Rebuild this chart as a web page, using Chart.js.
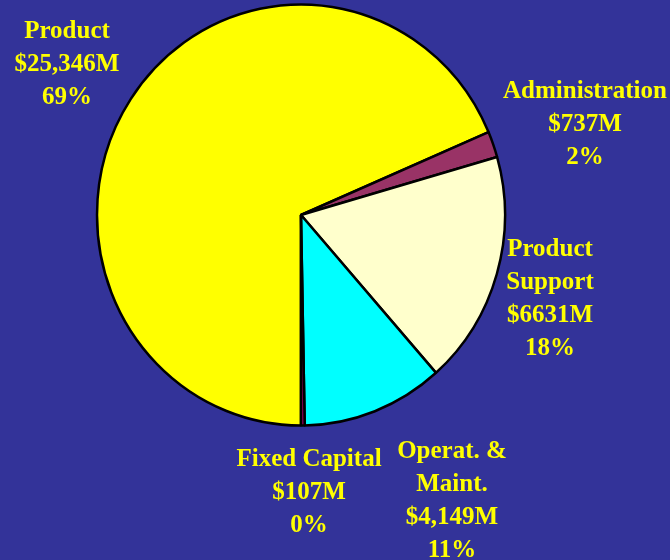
<!DOCTYPE html>
<html>
<head>
<meta charset="utf-8">
<script src="https://cdn.jsdelivr.net/npm/chart.js@4/dist/chart.umd.min.js"></script>
<style>
  html, body { margin: 0; padding: 0; background: #333399; }
  #wrap { width: 670px; height: 560px; }
</style>
</head>
<body>
<div id="wrap"><canvas id="c" width="670" height="560"></canvas></div>
<script>
const categories = ["Product", "Administration", "Product Support", "Operat. & Maint.", "Fixed Capital"];
const values = [25346, 737, 6631, 4149, 107];
const valueLabels = ["$25,346M", "$737M", "$6631M", "$4,149M", "$107M"];
const percentLabels = ["69%", "2%", "18%", "11%", "0%"];
const labelLines = [
  ["Product"],
  ["Administration"],
  ["Product", "Support"],
  ["Operat. &", "Maint."],
  ["Fixed Capital"]
];
const colors = ["#FFFF00", "#993366", "#FFFFCC", "#00FFFF", "#990066"];

// label anchor positions (layout only)
const labelPos = [
  { x: 67, y: 32 },
  { x: 585, y: 92 },
  { x: 550, y: 250 },
  { x: 452, y: 452 },
  { x: 309, y: 460 }
];
const lineH = 33;
const yScale = 1.032;

const bgPlugin = {
  id: 'bg',
  beforeDraw(chart) {
    const ctx = chart.ctx;
    ctx.save();
    ctx.fillStyle = '#333399';
    ctx.fillRect(0, 0, chart.width, chart.height);
    ctx.restore();
  }
};

const stretchPlugin = {
  id: 'stretch',
  beforeDatasetsDraw(chart) {
    const arc = chart.getDatasetMeta(0).data[0];
    const ctx = chart.ctx;
    ctx.save();
    ctx.translate(arc.x, arc.y);
    ctx.scale(1, yScale);
    ctx.translate(-arc.x, -arc.y);
  },
  afterDatasetsDraw(chart) {
    chart.ctx.restore();
  }
};

const labelPlugin = {
  id: 'labels',
  afterDraw(chart) {
    const ctx = chart.ctx;
    ctx.save();
    ctx.fillStyle = '#FFFF00';
    ctx.font = 'bold 25px "Liberation Serif", "Times New Roman", serif';
    ctx.textAlign = 'center';
    ctx.textBaseline = 'middle';
    categories.forEach((c, i) => {
      const lines = labelLines[i].concat([valueLabels[i], percentLabels[i]]);
      const p = labelPos[i];
      lines.forEach((t, k) => ctx.fillText(t, p.x, p.y + k * lineH));
    });
    ctx.restore();
  }
};

new Chart(document.getElementById('c'), {
  type: 'pie',
  data: {
    labels: categories,
    datasets: [{
      data: values,
      backgroundColor: colors,
      borderColor: '#000000',
      borderWidth: 2.5
    }]
  },
  options: {
    responsive: false,
    animation: false,
    rotation: 180,
    radius: 204,
    layout: { padding: { left: 97, right: 165, top: 11, bottom: 141 } },
    plugins: {
      legend: { display: false },
      tooltip: { enabled: false }
    }
  },
  plugins: [bgPlugin, stretchPlugin, labelPlugin]
});
</script>
</body>
</html>
